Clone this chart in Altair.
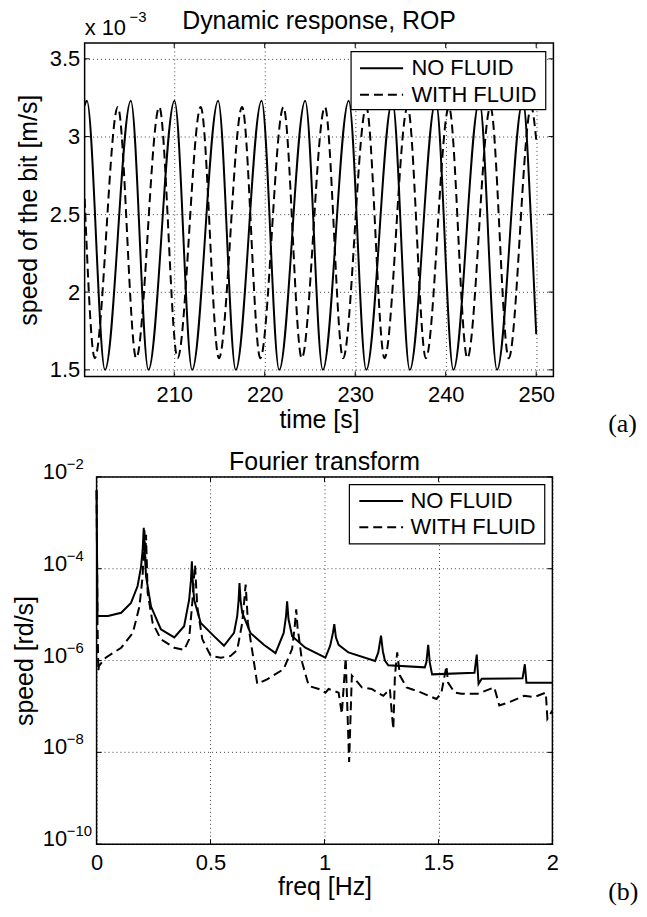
import altair as alt
import pandas as pd

FONT = "Liberation Sans"

# ---------------- panel (a): speed of the bit, in units of 1e-3 m/s ----------------
nofluid_time = [200.1, 200.35, 202.35, 205.2, 207.15, 210.03, 211.98, 214.85, 216.8,
                219.65, 221.6, 224.47, 226.42, 229.28, 231.22, 234.1, 236.03, 238.9,
                240.85, 243.72, 245.67, 248.53, 249.5, 250.0]
nofluid_speed = [3.2, 3.23, 1.5, 3.23, 1.5, 3.23, 1.5, 3.23, 1.5,
                 3.23, 1.5, 3.23, 1.5, 3.23, 1.5, 3.23, 1.5, 3.23,
                 1.5, 3.23, 1.5, 3.23, 2.37, 1.73]

fluid_time = [200.1, 201.22, 203.77, 205.8, 208.35, 210.37, 212.93, 214.94, 217.5,
              219.51, 222.07, 224.09, 226.65, 228.66, 231.22, 233.24, 235.79, 237.81,
              240.36, 242.39, 244.94, 246.96, 249.45, 250.0]
fluid_speed = [2.6, 1.575, 3.19, 1.575, 3.19, 1.575, 3.19, 1.575, 3.19,
               1.575, 3.19, 1.575, 3.19, 1.575, 3.19, 1.575, 3.19, 1.575,
               3.19, 1.575, 3.19, 1.575, 3.19, 2.98]

a_xticks = [210, 220, 230, 240, 250]
a_yticks = [1.5, 2, 2.5, 3, 3.5]

# ---------------- panel (b): Fourier transform ----------------
nofluid_freq = [0.0, 0.004, 0.05, 0.108, 0.151, 0.18, 0.195, 0.202, 0.207, 0.211,
                0.217, 0.239, 0.282, 0.341, 0.384, 0.406, 0.414, 0.418, 0.422, 0.428,
                0.457, 0.515, 0.559, 0.603, 0.617, 0.623, 0.627, 0.632, 0.639, 0.675,
                0.734, 0.785, 0.821, 0.831, 0.836, 0.842, 0.858, 0.916, 1.004, 1.025,
                1.037, 1.043, 1.05, 1.062, 1.105, 1.222, 1.236, 1.248, 1.256, 1.265,
                1.28, 1.44, 1.447, 1.455, 1.462, 1.472, 1.658, 1.668, 1.676, 1.69,
                1.869, 1.879, 1.886, 2.0]
nofluid_amp = [5.2e-3, 9.3e-6, 9.3e-6, 1.1e-5, 1.8e-5, 4.2e-5, 1.1e-4, 2.5e-4, 7.8e-4, 2.5e-4,
               6.8e-5, 1.5e-5, 4.8e-6, 3.2e-6, 5.6e-6, 2.1e-5, 5.5e-5, 1.45e-4, 5.5e-5, 2.1e-5,
               6.6e-6, 3.4e-6, 2.1e-6, 4.0e-6, 9.3e-6, 2.0e-5, 4.9e-5, 2.0e-5, 1.1e-5, 4.0e-6,
               2.2e-6, 1.45e-6, 4.0e-6, 9.0e-6, 1.95e-5, 8.0e-6, 3.4e-6, 1.9e-6, 1.15e-6, 2.1e-6,
               4.0e-6, 6.2e-6, 3.2e-6, 2.2e-6, 1.5e-6, 9.8e-7, 1.5e-6, 3.5e-6, 1.6e-6, 1.0e-6,
               7.9e-7, 7.1e-7, 9.1e-7, 2.2e-6, 9.0e-7, 5.0e-7, 5.4e-7, 1.35e-6, 3.1e-7, 4.0e-7,
               4.1e-7, 8.3e-7, 3.3e-7, 3.3e-7]

fluid_freq = [0.0, 0.004, 0.008, 0.01, 0.04, 0.108, 0.159, 0.188, 0.202, 0.21,
              0.214, 0.217, 0.224, 0.246, 0.282, 0.341, 0.384, 0.406, 0.421, 0.428,
              0.432, 0.437, 0.442, 0.464, 0.501, 0.545, 0.588, 0.617, 0.639, 0.654,
              0.66, 0.664, 0.684, 0.705, 0.748, 0.821, 0.858, 0.87, 0.876, 0.882,
              0.887, 0.902, 0.931, 0.975, 1.004, 1.018, 1.062, 1.076, 1.093, 1.108,
              1.12, 1.164, 1.207, 1.258, 1.287, 1.295, 1.302, 1.309, 1.319, 1.331,
              1.36, 1.425, 1.491, 1.513, 1.535, 1.542, 1.571, 1.6, 1.673, 1.745,
              1.767, 1.804, 1.876, 1.92, 1.971, 1.978, 2.0]
fluid_amp = [5.0e-3, 6.6e-6, 5.9e-7, 7.6e-7, 1.15e-6, 1.9e-6, 4.0e-6, 1.5e-5, 6.8e-5, 6.9e-4,
             1.5e-4, 5.5e-4, 3.0e-5, 6.6e-6, 2.9e-6, 1.9e-6, 1.7e-6, 2.9e-6, 2.1e-5, 7.0e-5,
             1.2e-4, 4.0e-5, 1.5e-5, 2.9e-6, 1.26e-6, 1.15e-6, 1.26e-6, 1.7e-6, 6.6e-6, 4.5e-5,
             1.5e-5, 6.6e-6, 1.5e-6, 3.1e-7, 3.9e-7, 6.5e-7, 1.8e-6, 6.0e-6, 1.3e-5, 5.0e-6,
             3.4e-6, 9.1e-7, 2.8e-7, 2.4e-7, 2.0e-7, 2.4e-7, 2.0e-7, 6.9e-8, 1.15e-6, 6.2e-9,
             4.7e-7, 2.6e-7, 2.4e-7, 1.7e-7, 2.4e-7, 7.4e-8, 3.2e-8, 4.7e-7, 1.5e-6, 4.7e-7,
             2.6e-7, 2.0e-7, 1.45e-7, 2.0e-7, 7.6e-7, 3.3e-7, 2.0e-7, 1.9e-7, 1.9e-7, 2.6e-7,
             1.05e-7, 1.2e-7, 1.7e-7, 1.6e-7, 2.0e-7, 5.4e-8, 8.1e-8]

b_xticks = [0, 0.5, 1, 1.5, 2]
b_yticks = [1e-10, 1e-8, 1e-6, 1e-4, 1e-2]
b_ylabel_exp = ["\u221210", "\u22128", "\u22126", "\u22124", "\u22122"]

legend_labels = ["NO FLUID", "WITH FLUID"]
DASH = [9, 5]

W1, H1 = 471, 335          # top frame
W2, H2 = 458, 369          # bottom frame
OFF = 12                   # bottom frame starts 12 px right of the top frame
GW2 = W2 + OFF             # bottom group width
GRID = dict(color="#000", strokeWidth=1, strokeDash=[1, 3], opacity=0.75)


def axis(**kw):
    base = dict(grid=True, gridColor="#000", gridDash=[1, 3], gridOpacity=0.75, gridWidth=1,
                domain=False, ticks=False, tickSize=0,
                labelFont=FONT, labelFontSize=22, labelColor="#000",
                titleFont=FONT, titleFontSize=25, titleFontWeight="normal", titleColor="#000",
                labelFlush=False, labelOverlap=False)
    base.update(kw)
    return alt.Axis(**base)


def one():
    return alt.Chart(pd.DataFrame({"k": [0]}))


def txt(text, x, y, size=22, align="left", baseline="alphabetic", font=FONT):
    return one().mark_text(text=text, font=font, fontSize=size, align=align, baseline=baseline,
                           color="#000").encode(x=alt.value(x), y=alt.value(y))


def frame(x0, x1, h):
    return one().mark_rect(fillOpacity=0, stroke="#000", strokeWidth=1.5).encode(
        x=alt.value(x0), x2=alt.value(x1), y=alt.value(0), y2=alt.value(h))


def tick_layers(xf, yf, xticks, yticks, sx, sy, x0, x1, H):
    dx = pd.DataFrame({xf: xticks})
    dy = pd.DataFrame({yf: yticks})
    r = dict(color="#000", strokeWidth=1)
    return [
        alt.Chart(dx).mark_rule(**r).encode(x=alt.X(f"{xf}:Q", scale=sx), y=alt.value(H), y2=alt.value(H - 5)),
        alt.Chart(dx).mark_rule(**r).encode(x=alt.X(f"{xf}:Q", scale=sx), y=alt.value(0), y2=alt.value(5)),
        alt.Chart(dy).mark_rule(**r).encode(y=alt.Y(f"{yf}:Q", scale=sy), x=alt.value(x0), x2=alt.value(x0 + 5)),
        alt.Chart(dy).mark_rule(**r).encode(y=alt.Y(f"{yf}:Q", scale=sy), x=alt.value(x1 - 5), x2=alt.value(x1)),
    ]


def legend_layers(x0, x1, y0, y1, lx0, lx1, tx, ry):
    box = one().mark_rect(fill="white", stroke="#000", strokeWidth=1.2).encode(
        x=alt.value(x0), x2=alt.value(x1), y=alt.value(y0), y2=alt.value(y1))
    l1 = one().mark_rule(color="#000", strokeWidth=2).encode(x=alt.value(lx0), x2=alt.value(lx1), y=alt.value(ry[0]))
    l2 = one().mark_rule(color="#000", strokeWidth=2, strokeDash=DASH).encode(x=alt.value(lx0), x2=alt.value(lx1), y=alt.value(ry[1]))
    t1 = txt(legend_labels[0], tx, ry[0], baseline="middle")
    t2 = txt(legend_labels[1], tx, ry[1], baseline="middle")
    return [box, l1, l2, t1, t2]


# ---------------- top panel ----------------
sxa = alt.Scale(domain=[200.1, 251.9], nice=False, zero=False)
sya = alt.Scale(domain=[1.458, 3.602], nice=False, zero=False)

da1 = pd.DataFrame({"t": nofluid_time, "v": nofluid_speed})
da2 = pd.DataFrame({"t": fluid_time, "v": fluid_speed})

xa = alt.X("t:Q", scale=sxa, axis=axis(values=a_xticks, title="time [s]", format="d", labelPadding=8, titlePadding=2))
ya = alt.Y("v:Q", scale=sya, axis=axis(values=a_yticks, title="speed of the bit [m/s]", format="~g", labelPadding=5, titlePadding=8))

a_solid = alt.Chart(da1).mark_line(color="#000", strokeWidth=2, interpolate="monotone", clip=True).encode(x=xa, y=ya)
a_dash = alt.Chart(da2).mark_line(color="#000", strokeWidth=2, strokeDash=DASH, interpolate="monotone", clip=True).encode(
    x=alt.X("t:Q", scale=sxa), y=alt.Y("v:Q", scale=sya))

top = alt.layer(
    a_solid, a_dash,
    *tick_layers("t", "v", a_xticks, a_yticks, sxa, sya, 0, W1, H1),
    frame(0, W1, H1),
    *legend_layers(267.7, 463.3, 8.7, 67, 276.7, 320, 328.3, [25.3, 52]),
    txt("Dynamic response, ROP", W1 / 2, -14, size=25, align="center"),
    txt("x 10", 0, -8),
    txt("\u22123", 45, -21, size=15),
    txt("(a)", 526, 383, size=26, baseline="middle", font="Liberation Serif"),
).properties(width=W1, height=H1)

# ---------------- bottom panel ----------------
sxb = alt.Scale(domain=[-2 * OFF / W2, 2], nice=False, zero=False)
syb = alt.Scale(type="log", domain=[1e-10, 1e-2], nice=False)

db1 = pd.DataFrame({"f": nofluid_freq, "s": nofluid_amp})
db2 = pd.DataFrame({"f": fluid_freq, "s": fluid_amp})

xb = alt.X("f:Q", scale=sxb, axis=axis(values=b_xticks, title="freq [Hz]", format="~g", labelPadding=8,
                                       titlePadding=2, titleX=OFF + W2 / 2, titleAlign="center"))
yb = alt.Y("s:Q", scale=syb, axis=axis(values=b_yticks, title="speed [rd/s]", labels=False, grid=False, titlePadding=47))

b_solid = alt.Chart(db1).mark_line(color="#000", strokeWidth=2, clip=True).encode(x=xb, y=yb)
b_dash = alt.Chart(db2).mark_line(color="#000", strokeWidth=2, strokeDash=DASH, clip=True).encode(
    x=alt.X("f:Q", scale=sxb), y=alt.Y("s:Q", scale=syb))

dlab = pd.DataFrame({"s": b_yticks, "e": b_ylabel_exp})
b_grid = alt.Chart(dlab).mark_rule(**GRID).encode(y=alt.Y("s:Q", scale=syb), x=alt.value(OFF), x2=alt.value(GW2))
b_ten = alt.Chart(dlab).mark_text(text="10", font=FONT, fontSize=22, align="left", baseline="alphabetic", dy=2, color="#000").encode(
    y=alt.Y("s:Q", scale=syb), x=alt.value(OFF - 54))
b_exp = alt.Chart(dlab).mark_text(font=FONT, fontSize=15, align="left", baseline="alphabetic", dy=-8, color="#000").encode(
    y=alt.Y("s:Q", scale=syb), x=alt.value(OFF - 30), text="e:N")

bottom = alt.layer(
    b_grid, b_solid, b_dash,
    *tick_layers("f", "s", b_xticks, b_yticks, sxb, syb, OFF, GW2, H2),
    frame(OFF, GW2, H2),
    *legend_layers(OFF + 254, OFF + 450.3, 7.7, 67.3, OFF + 264, OFF + 308, OFF + 315.3, [24.3, 50.7]),
    b_ten, b_exp,
    txt("Fourier transform", OFF + W2 / 2, -7, size=25, align="center"),
    txt("(b)", OFF + 514, 417, size=26, baseline="middle", font="Liberation Serif"),
).properties(width=GW2, height=H2)

chart = alt.concat(top, bottom, columns=1, spacing=13).properties(
    padding={"left": 5, "top": -1, "right": 0, "bottom": 0},
    background="white",
).configure_view(strokeWidth=0)

chart.save("out.html", embed_options={"renderer": "svg", "actions": False})
